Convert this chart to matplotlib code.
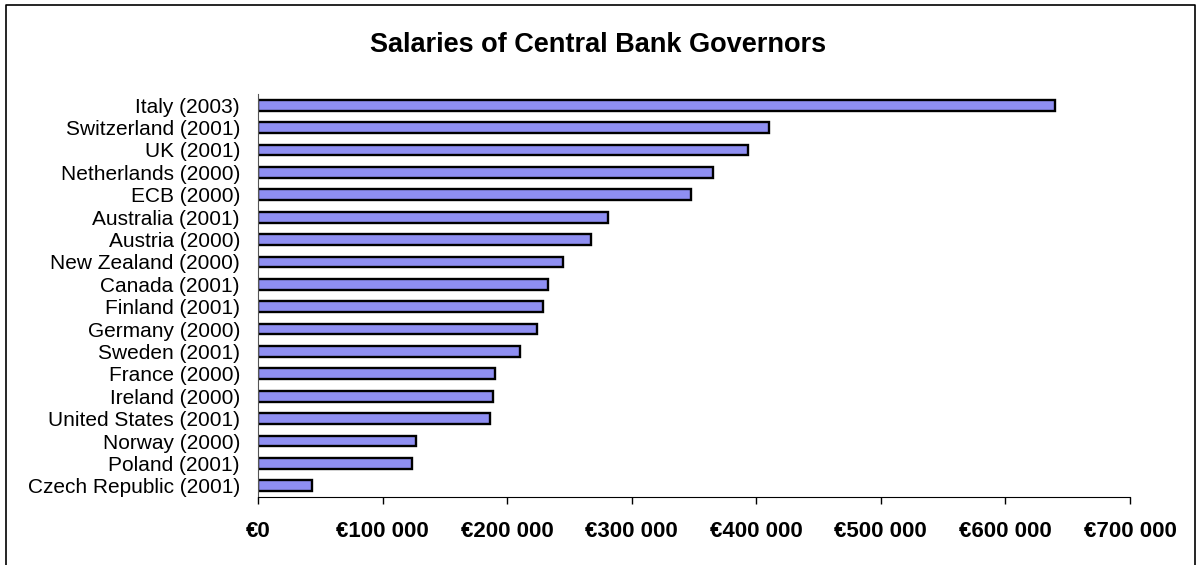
import matplotlib.pyplot as plt
from matplotlib.lines import Line2D
from matplotlib.ticker import FuncFormatter

# governors' salaries, in euros
countries = ['Italy (2003)', 'Switzerland (2001)', 'UK (2001)', 'Netherlands (2000)',
             'ECB (2000)', 'Australia (2001)', 'Austria (2000)', 'New Zealand (2000)',
             'Canada (2001)', 'Finland (2001)', 'Germany (2000)', 'Sweden (2001)',
             'France (2000)', 'Ireland (2000)', 'United States (2001)', 'Norway (2000)',
             'Poland (2001)', 'Czech Republic (2001)']
salaries = [640000, 410000, 393000, 365000, 348000, 281000, 267000, 245000,
            233000, 229000, 224000, 210000, 190000, 189000, 186000, 127000,
            124000, 43000]
xticks = [0, 100000, 200000, 300000, 400000, 500000, 600000, 700000]

plt.rcParams['font.family'] = ['Liberation Sans', 'DejaVu Sans']

fig = plt.figure(figsize=(11.96, 5.65), dpi=100, facecolor='white')
ax = fig.add_axes([0.2157, 0.1204, 0.7291, 0.7132])

pos = list(range(len(countries)))
ax.barh(pos, salaries, height=0.48, color='#8f8ff2', edgecolor='black', linewidth=1.7)

ax.set_ylim(len(countries) - 0.5, -0.5)
ax.set_yticks(pos)
ax.set_yticklabels(countries, fontsize=15)
ax.tick_params(axis='y', length=0, pad=13)

ax.set_xlim(0, 700000)
ax.set_xticks(xticks)
ax.xaxis.set_major_formatter(FuncFormatter(lambda v, p: '€' + f'{int(v):,}'.replace(',', ' ')))
ax.tick_params(axis='x', direction='out', length=5, width=1, pad=12, labelsize=16)
for lab in ax.get_xticklabels():
    lab.set_fontweight('bold')

for s in ['top', 'right']:
    ax.spines[s].set_visible(False)
ax.spines['left'].set_color('#555555')
ax.spines['bottom'].set_color('black')

fig.text(0.5, 0.92, 'Salaries of Central Bank Governors', ha='center', va='center',
         fontsize=19.5, fontweight='bold')

# chart area border, open at the bottom
fx = [6 / 1196, 6 / 1196, 1195 / 1196, 1195 / 1196]
fy = [0, 1 - 5 / 565, 1 - 5 / 565, 0]
fig.add_artist(Line2D(fx, fy, transform=fig.transFigure, color='black', linewidth=1.2))

fig.savefig('out.png', dpi=100)
